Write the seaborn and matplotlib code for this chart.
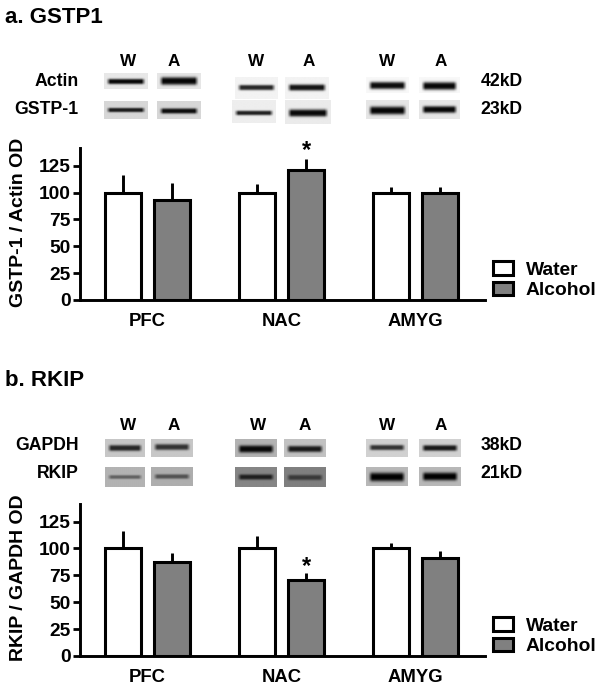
import matplotlib
matplotlib.use("Agg")
import matplotlib.pyplot as plt
import numpy as np
import pandas as pd
import seaborn as sns

W, H = 604, 689
SX = 1.1556  # blot coordinates below were measured on a squeezed crop

regions = ["PFC", "NAC", "AMYG"]
groups = ["Water", "Alcohol"]
gstp_water = [100, 100, 100]
gstp_alcohol = [93, 121, 100]
gstp_water_top = [116, 108, 105]
gstp_alcohol_top = [109, 131, 105]
rkip_water = [100, 100, 100]
rkip_alcohol = [87, 71, 91]
rkip_water_top = [116, 112, 105]
rkip_alcohol_top = [96, 77, 98]
y_ticks = [0, 25, 50, 75, 100, 125]

sns.set_theme(style="ticks")
plt.rcParams["font.family"] = ["Liberation Sans", "DejaVu Sans"]
plt.rcParams["font.weight"] = "bold"
plt.rcParams.update({
    "text.color": "black", "axes.edgecolor": "black",
    "xtick.color": "black", "ytick.color": "black",
})

fig = plt.figure(figsize=(W / 100, H / 100), dpi=100, facecolor="white")


def label(x, y, s, size=12.7, ha="center"):
    fig.text(x * SX / W, 1 - y / H, s, fontsize=size, fontweight="bold", ha=ha, va="center", color="black")


def blot(x0, x1, y0, y1, band_y, bg, dark, thick):
    # one gel strip, drawn in pixel coordinates of the figure
    x0, x1 = x0 * SX, x1 * SX
    ax = fig.add_axes([x0 / W, 1 - y1 / H, (x1 - x0) / W, (y1 - y0) / H])
    xx, yy = np.meshgrid(np.linspace(x0, x1, 60), np.linspace(y0, y1, 40))
    mid = (x0 + x1) / 2
    half = (x1 - x0) / 2 - 2
    across = np.clip((half - np.abs(xx - mid)) / 4, 0, 1)
    band = np.exp(-np.abs((yy - band_y) / (thick * 1.25)) ** 3) * across
    img = bg + (dark - bg) * band
    ax.imshow(img, cmap="gray", vmin=0, vmax=1, aspect="auto", interpolation="bilinear")
    ax.axis("off")


def chart(y_top, y_base, water, alcohol, water_top, alcohol_top, ylabel, star_y, star_x):
    ax = fig.add_axes([80 / W, 1 - y_base / H, 404.5 / W, (y_base - y_top) / H])
    df = pd.DataFrame({
        "region": regions * 2,
        "group": [groups[0]] * 3 + [groups[1]] * 3,
        "value": water + alcohol,
    })
    sns.barplot(
        data=df, x="region", y="value", hue="group", order=regions, hue_order=groups,
        palette={"Water": "white", "Alcohol": "#808080"}, width=0.724, gap=0.26,
        edgecolor="black", linewidth=2.2, errorbar=None, saturation=1, ax=ax,
    )
    bars = [p for p in ax.patches if p.get_height() > 0][:6]
    tops = water_top + alcohol_top
    for bar, top in zip(bars, tops):
        cx = bar.get_x() + bar.get_width() / 2
        ax.plot([cx, cx], [bar.get_height(), top], color="black", lw=2.1, solid_capstyle="butt", zorder=1)
    ax.set_xlim(-0.504, 2.513)
    ax.set_ylim(0, 141.3)
    ax.set_xticks(range(3))
    ax.set_xticklabels(regions, fontweight="bold")
    ax.set_yticks(y_ticks)
    ax.set_yticklabels(y_ticks, fontweight="bold")
    ax.tick_params(axis="y", width=2.0, length=5, labelsize=13.8, pad=1.5)
    ax.tick_params(axis="x", length=0, labelsize=13.3, pad=9)
    ax.set_xlabel("")
    ax.set_ylabel("")
    for side in ["top", "right"]:
        ax.spines[side].set_visible(False)
    for side in ["left", "bottom"]:
        ax.spines[side].set_linewidth(2.1)
    fig.text(19 / W, 1 - (y_base - 78) / H, ylabel, rotation=90, fontsize=14, fontweight="bold",
             ha="center", va="center")
    label(star_x, star_y, "*", size=17)

    handles, names = ax.get_legend_handles_labels()
    ax.get_legend().remove()
    fig.legend(
        handles, names, loc="lower left", frameon=False,
        bbox_to_anchor=(491 / W, 1 - (y_base + 1) / H), handlelength=1.04, handleheight=0.7,
        handletextpad=0.65, labelspacing=0.15, borderpad=0.1, borderaxespad=0,
        prop={"weight": "bold", "size": 13.9},
    )


label(5 / SX, 17.5, "a. GSTP1", size=16, ha="left")
label(5 / SX, 380.5, "b. RKIP", size=16, ha="left")

# panel a blots
for x, s in zip([110.5, 150, 222, 267, 335, 381], "WAWAWA"):
    label(x, 61.5, s, size=12.3)
label(68, 81, "Actin", ha="right")
label(68, 109, "GSTP-1", ha="right")
label(416, 81, "42kD", ha="left")
label(416, 109, "23kD", ha="left")
blot(90, 128, 73, 89, 81.5, 0.91, 0.03, 2.2)
blot(136, 174, 73, 89, 81, 0.90, 0.02, 3.2)
blot(203, 240, 77, 99, 87.5, 0.95, 0.15, 2.2)
blot(247, 285, 77, 99, 87.5, 0.95, 0.08, 2.6)
blot(317, 354, 77, 93, 85.5, 0.97, 0.05, 3.0)
blot(363, 398, 77, 93, 86, 0.97, 0.03, 3.2)
blot(90, 128, 101, 119, 110, 0.84, 0.10, 1.8)
blot(136, 174, 101, 119, 111, 0.84, 0.05, 2.2)
blot(201, 239, 100, 123, 113, 0.93, 0.12, 1.9)
blot(247, 286, 100, 124, 113, 0.92, 0.03, 3.0)
blot(317, 354, 100, 119, 110.5, 0.90, 0.02, 3.3)
blot(363, 398, 100, 119, 109.5, 0.90, 0.02, 2.8)

# panel b blots
for x, s in zip([110.5, 150, 223, 264, 335, 381], "WAWAWA"):
    label(x, 425.5, s, size=12.3)
label(68, 445, "GAPDH", ha="right")
label(68, 473, "RKIP", ha="right")
label(416, 445, "38kD", ha="left")
label(416, 473, "21kD", ha="left")
blot(91, 125, 439, 457, 448, 0.78, 0.15, 2.5)
blot(131, 167, 439, 457, 447, 0.78, 0.2, 2.5)
blot(203, 239, 439, 457, 449, 0.70, 0.03, 3.0)
blot(246, 282, 439, 457, 449, 0.76, 0.10, 2.6)
blot(317, 353, 439, 457, 447.5, 0.82, 0.20, 2.2)
blot(363, 399, 439, 457, 448, 0.82, 0.10, 2.4)
blot(91, 125, 467, 487, 477, 0.70, 0.38, 1.6)
blot(131, 167, 467, 486, 476.5, 0.68, 0.32, 1.9)
blot(203, 239, 467, 487, 477, 0.52, 0.12, 2.2)
blot(246, 282, 467, 487, 477.5, 0.50, 0.22, 2.2)
blot(317, 353, 467, 486, 477, 0.72, 0.0, 3.6)
blot(363, 399, 467, 486, 476.5, 0.72, 0.0, 3.3)

chart(148.3, 300, gstp_water, gstp_alcohol, gstp_water_top, gstp_alcohol_top,
      "GSTP-1 / Actin OD", 151, 265)
chart(504, 656, rkip_water, rkip_alcohol, rkip_water_top, rkip_alcohol_top,
      "RKIP / GAPDH OD", 567, 265)

fig.savefig("out.png", dpi=100)
plt.close(fig)
